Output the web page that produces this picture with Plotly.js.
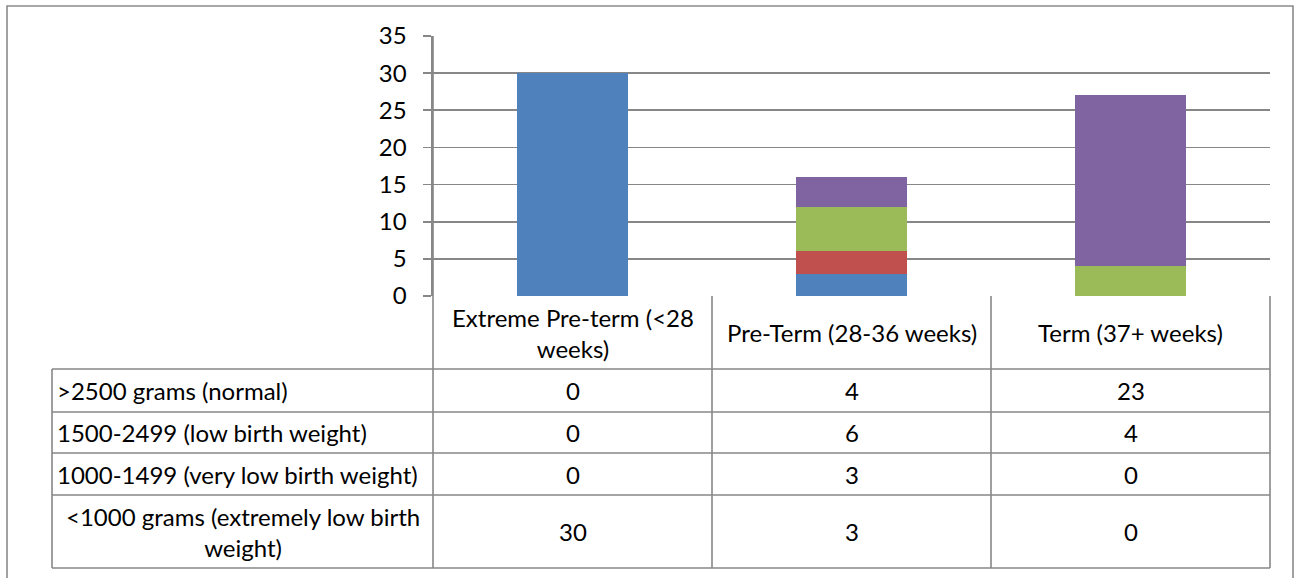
<!DOCTYPE html>
<html>
<head>
<meta charset="utf-8">
<script src="https://cdn.plot.ly/plotly-3.0.1.min.js"></script>
<style>
html,body{margin:0;padding:0;background:#fff;}
#chart{width:1294px;height:578px;}
</style>
</head>
<body>
<div id="chart"></div>
<script>
// ---- data ----
var categories = ["Extreme Pre-term (<28 weeks)", "Pre-Term (28-36 weeks)", "Term (37+ weeks)"];
var seriesNames = [">2500 grams (normal)", "1500-2499 (low birth weight)", "1000-1499 (very low birth weight)", "<1000 grams (extremely low birth weight)"];
var normal = [0, 4, 23];
var lowBW = [0, 6, 4];
var veryLowBW = [0, 3, 0];
var extremelyLowBW = [30, 3, 0];
var yTicks = [0, 5, 10, 15, 20, 25, 30, 35];

// ---- style ----
var FONT = "Lato, 'Liberation Sans', sans-serif";
var FS = 24;
var GRID = "#878787";
var W = 1294, H = 578;
var L = 433, R = 1270, T = 36, B = 296;
function px2x(px){ return (px - L) / (R - L); }
function py2y(py){ return (B - py) / (B - T); }
function esc(s){ return s.replace(/&/g,'&amp;').replace(/</g,'&lt;').replace(/>/g,'&gt;'); }

var cv = document.createElement('canvas').getContext('2d');
cv.font = FS + "px " + FONT;
function wrap(s, maxW){
  var words = s.split(' '), lines = [], cur = '';
  words.forEach(function(w){
    var t = cur ? cur + ' ' + w : w;
    if (cv.measureText(t).width > maxW && cur){ lines.push(cur); cur = w; }
    else cur = t;
  });
  if (cur) lines.push(cur);
  return lines.map(esc).join('<br>');
}

// series in stacking order (bottom first), paired with table rows
var stackSeries = [
  {name: seriesNames[3], y: extremelyLowBW, color: "#4F81BD"},
  {name: seriesNames[2], y: veryLowBW, color: "#C0504D"},
  {name: seriesNames[1], y: lowBW, color: "#9BBB59"},
  {name: seriesNames[0], y: normal, color: "#8064A2"}
];
var traces = stackSeries.map(function(s){
  return {type: 'bar', x: [0,1,2], y: s.y, name: s.name,
          marker: {color: s.color, line: {width: 0}}, hoverinfo: 'y'};
});

// table rows (top to bottom)
var tableRows = [
  {label: seriesNames[0], vals: normal},
  {label: seriesNames[1], vals: lowBW},
  {label: seriesNames[2], vals: veryLowBW},
  {label: seriesNames[3], vals: extremelyLowBW}
];
var rowLines = [369, 412, 453, 495, 568]; // px boundaries of table rows
var colLeft = 52;
var colW = (R - L) / categories.length;

var shapes = [], ann = [];
var lineStyle = {color: GRID, width: 1.6};
// horizontal table lines
rowLines.forEach(function(py){
  shapes.push({type:'line', xref:'paper', yref:'paper', x0:px2x(colLeft), x1:1, y0:py2y(py), y1:py2y(py), line:lineStyle});
});
// vertical lines
shapes.push({type:'line', xref:'paper', yref:'paper', x0:px2x(colLeft), x1:px2x(colLeft), y0:py2y(rowLines[0]), y1:py2y(rowLines[4]), line:lineStyle});
for (var c = 0; c <= categories.length; c++){
  var xx = c / categories.length;
  shapes.push({type:'line', xref:'paper', yref:'paper', x0:xx, x1:xx, y0:c===0?1:0, y1:py2y(rowLines[4]), line:lineStyle});
}
// outer chart border
shapes.push({type:'rect', xref:'paper', yref:'paper', x0:px2x(7), x1:px2x(1293), y0:py2y(6), y1:py2y(600), line:{color:'#8a8a8a', width:1.6}, fillcolor:'rgba(0,0,0,0)'});

// header text
categories.forEach(function(cat, i){
  ann.push({xref:'x', yref:'paper', x:i, y:py2y((B + rowLines[0]) / 2), text: wrap(cat, colW - 14),
            showarrow:false, xanchor:'center', yanchor:'middle', align:'center', font:{family:FONT, size:FS, color:'#000'}});
});
// rows
tableRows.forEach(function(r, ri){
  var cy = (rowLines[ri] + rowLines[ri+1]) / 2;
  var lbl = wrap(r.label, (L - colLeft) - 6);
  var multi = lbl.indexOf('<br>') >= 0;
  ann.push({xref:'paper', yref:'paper', x: multi ? px2x((colLeft + L)/2) : px2x(colLeft + 3), y: py2y(cy), text: lbl,
            showarrow:false, xanchor: multi ? 'center' : 'left', yanchor:'middle', align:'center', font:{family:FONT, size:FS, color:'#000'}});
  r.vals.forEach(function(v, ci){
    ann.push({xref:'x', yref:'paper', x: ci, y: py2y(cy), text: String(v),
              showarrow:false, xanchor:'center', yanchor:'middle', font:{family:FONT, size:FS, color:'#000'}});
  });
});

var layout = {
  width: W, height: H,
  margin: {l: L, r: W - R, t: T, b: H - B, pad: 0},
  paper_bgcolor: '#fff', plot_bgcolor: '#fff',
  barmode: 'stack', bargap: 0.6,
  showlegend: false,
  font: {family: FONT, size: FS, color: '#000'},
  xaxis: {range: [-0.5, 2.5], showticklabels: false, showgrid: false, zeroline: false, showline: false, ticks: '', fixedrange: true},
  yaxis: {range: [0, 35], tickvals: yTicks, ticktext: yTicks.map(String), showgrid: true, gridcolor: GRID, gridwidth: 1.6,
          zeroline: false, showline: true, linecolor: GRID, linewidth: 1.6, ticks: 'outside', ticklen: 8, tickcolor: GRID, tickwidth: 1.6,
          ticklabelstandoff: 12, tickfont: {family: FONT, size: FS, color: '#000'}, fixedrange: true},
  shapes: shapes,
  annotations: ann
};
Plotly.newPlot('chart', traces, layout, {displayModeBar: false, staticPlot: true});
</script>
</body>
</html>
